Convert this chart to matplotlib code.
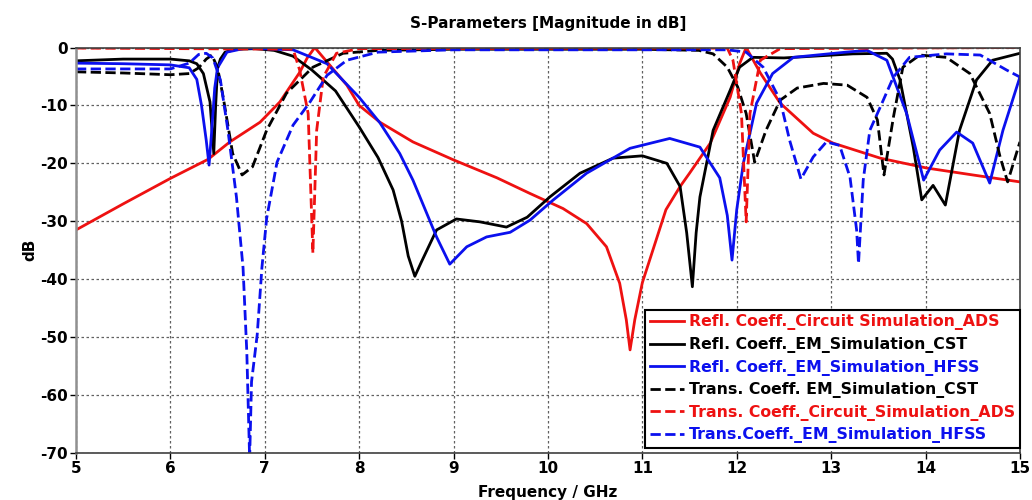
import numpy as np
import matplotlib
matplotlib.use('Agg')
import matplotlib.pyplot as plt


# ********************************************************************************************
# Data (frequency in GHz, magnitude in dB)

refl_ads_f = [5.0, 5.5, 6.0, 6.4, 6.63, 6.95, 7.16, 7.37, 7.45, 7.53, 7.66, 7.87, 8.0, 8.22, 8.57,
              9.0, 9.46, 9.81, 10.16, 10.41, 10.62, 10.76, 10.83, 10.87, 10.92, 11.0, 11.25, 11.4,
              11.5, 11.72, 11.93, 12.03, 12.1, 12.25, 12.46, 12.81, 13.02, 13.52, 14.01, 14.5, 15.0]
refl_ads_db = [-31.5, -27.0, -22.6, -19.3, -16.3, -12.9, -9.4, -4.3, -1.8, 0.0, -2.5, -6.5, -10.0,
               -12.9, -16.3, -19.4, -22.5, -25.2, -27.8, -30.4, -34.4, -40.7, -47.0, -52.2, -47.0,
               -40.6, -28.0, -24.0, -21.7, -16.5, -8.6, -2.8, 0.0, -4.4, -9.6, -14.8, -16.5, -19.1,
               -20.8, -22.0, -23.2]

refl_cst_f = [5.0, 5.5, 6.0, 6.2, 6.28, 6.35, 6.42, 6.46, 6.48, 6.5, 6.53, 6.58, 6.7, 6.9, 7.1,
              7.3, 7.5, 7.75, 8.0, 8.2, 8.36, 8.45, 8.52, 8.59, 8.66, 8.82, 9.03, 9.28, 9.56, 9.78,
              10.02, 10.34, 10.69, 11.0, 11.26, 11.4, 11.47, 11.53, 11.57, 11.61, 11.75, 11.93,
              12.03, 12.17, 12.5, 13.23, 13.59, 13.65, 13.73, 13.87, 13.96, 14.08, 14.21, 14.36,
              14.54, 14.71, 15.0]
refl_cst_db = [-2.3, -2.0, -2.0, -2.3, -2.8, -4.5, -9.4, -18.3, -10.0, -3.6, -2.0, -0.8, -0.3, -0.2,
               -0.5, -1.5, -3.9, -7.5, -13.7, -19.0, -24.6, -30.0, -36.0, -39.5, -37.0, -31.5,
               -29.6, -30.1, -31.0, -29.3, -25.8, -21.7, -19.1, -18.7, -20.0, -24.0, -32.0, -41.3,
               -32.0, -25.8, -14.3, -7.4, -3.4, -1.7, -1.8, -1.1, -1.0, -2.0, -5.6, -17.2, -26.3,
               -23.8, -27.2, -14.3, -5.6, -2.2, -1.0]

refl_hfss_f = [5.0, 5.5, 6.0, 6.2, 6.28, 6.33, 6.38, 6.41, 6.44, 6.47, 6.5, 6.6, 6.8, 7.3, 7.66,
               8.0, 8.22, 8.43, 8.57, 8.82, 8.96, 9.14, 9.35, 9.6, 9.81, 10.05, 10.41, 10.87, 11.29,
               11.61, 11.82, 11.9, 11.95, 12.0, 12.07, 12.21, 12.38, 12.6, 13.16, 13.38, 13.59,
               13.8, 13.98, 14.15, 14.33, 14.5, 14.68, 14.82, 15.0]
refl_hfss_db = [-2.7, -2.8, -3.0, -3.5, -5.5, -10.0, -16.0, -20.3, -14.0, -7.0, -3.5, -0.8, -0.1,
                -0.4, -2.8, -8.6, -13.0, -18.3, -22.9, -32.7, -37.4, -34.4, -32.7, -31.9, -29.8,
                -26.4, -21.7, -17.4, -15.7, -17.2, -22.5, -29.0, -36.7, -28.0, -20.0, -9.6, -4.5,
                -1.7, -0.8, -0.5, -2.2, -11.4, -22.9, -17.7, -14.6, -16.5, -23.4, -14.3, -5.1]

trans_cst_f = [5.0, 5.5, 6.0, 6.2, 6.3, 6.38, 6.44, 6.5, 6.56, 6.66, 6.76, 6.87, 7.02, 7.23, 7.51,
               7.83, 8.2, 9.0, 11.0, 11.6, 11.75, 11.9, 12.01, 12.1, 12.19, 12.31, 12.46, 12.64,
               12.92, 13.17, 13.38, 13.49, 13.56, 13.66, 13.76, 13.94, 14.22, 14.47, 14.68, 14.79,
               14.87, 15.0]
trans_cst_db = [-4.2, -4.4, -4.7, -4.5, -3.5, -2.0, -1.3, -3.5, -8.6, -18.3, -22.0, -20.6, -14.3,
                -7.9, -3.4, -1.0, -0.5, -0.3, -0.3, -0.5, -1.1, -3.4, -6.8, -11.4, -19.8, -14.3,
                -9.1, -7.0, -6.2, -6.5, -8.6, -12.5, -22.0, -12.0, -3.4, -1.3, -1.7, -4.5, -11.4,
                -18.9, -23.2, -16.3]

trans_ads_f = [5.0, 7.3, 7.37, 7.46, 7.51, 7.55, 7.62, 7.76, 8.0, 11.9, 11.96, 12.05, 12.1, 12.14,
               12.25, 12.46, 15.0]
trans_ads_db = [-0.1, -0.3, -3.9, -11.4, -35.5, -14.3, -5.1, -1.0, -0.2, -0.1, -2.2, -11.4, -30.1,
                -11.4, -2.2, -0.2, 0.0]

trans_hfss_f = [5.0, 5.5, 6.0, 6.2, 6.3, 6.38, 6.45, 6.53, 6.61, 6.7, 6.77, 6.81, 6.84, 6.86, 6.92,
                6.97, 7.02, 7.13, 7.3, 7.48, 7.66, 7.87, 8.2, 9.0, 11.9, 12.1, 12.28, 12.46, 12.56,
                12.68, 12.81, 12.95, 13.09, 13.2, 13.27, 13.29, 13.34, 13.41, 13.52, 13.66, 13.83,
                14.22, 14.58, 14.86, 15.0]
trans_hfss_db = [-3.7, -3.7, -3.7, -2.7, -1.2, -1.0, -1.8, -5.6, -14.3, -25.8, -38.0, -52.6, -71.0,
                 -57.7, -49.6, -38.0, -29.5, -19.8, -13.4, -9.4, -4.8, -2.2, -0.8, -0.4, -0.4, -0.8,
                 -3.4, -9.1, -16.0, -22.7, -18.9, -16.3, -16.9, -22.4, -31.5, -37.3, -22.9, -14.3,
                 -10.3, -5.1, -1.7, -1.1, -1.3, -3.9, -5.1]

labels = ['Refl. Coeff._Circuit Simulation_ADS',
          'Refl. Coeff._EM_Simulation_CST',
          'Refl. Coeff._EM_Simulation_HFSS',
          'Trans. Coeff. EM_Simulation_CST',
          'Trans. Coeff._Circuit_Simulation_ADS',
          'Trans.Coeff._EM_Simulation_HFSS']

x_ticks = np.arange(5, 16, 1)
y_ticks = np.arange(-70, 1, 10)


# ********************************************************************************************
# Graphing

plt.rcParams['axes.unicode_minus'] = False

red = '#ee1111'
blue = '#0b10ee'
black = '#000000'
lw = 2.0

fig = plt.figure(figsize=(10.32, 5.0), dpi=100)
ax = fig.add_axes([0.0736, 0.094, 0.9147, 0.811])

ax.plot(refl_ads_f, refl_ads_db, color=red, lw=lw, label=labels[0])
ax.plot(refl_cst_f, refl_cst_db, color=black, lw=lw, label=labels[1])
ax.plot(refl_hfss_f, refl_hfss_db, color=blue, lw=lw, label=labels[2])
ax.plot(trans_cst_f, trans_cst_db, color=black, lw=lw, ls='--', label=labels[3])
ax.plot(trans_ads_f, trans_ads_db, color=red, lw=lw, ls='--', label=labels[4])
ax.plot(trans_hfss_f, trans_hfss_db, color=blue, lw=lw, ls='--', label=labels[5])

ax.set_xlim(5, 15)
ax.set_ylim(-70, 0)
ax.set_xticks(x_ticks)
ax.set_yticks(y_ticks)
ax.grid(True, color='#606060', ls=(0, (2, 2)), lw=0.9)
ax.tick_params(direction='out', length=4, width=1, labelsize=11, colors='black', pad=2)
for t in ax.get_xticklabels() + ax.get_yticklabels():
    t.set_fontweight('bold')
for s in ax.spines.values():
    s.set_color('#404040')
    s.set_linewidth(1.2)
ax.spines['left'].set_color('#909090')
ax.spines['left'].set_linewidth(1.8)

ax.set_title('S-Parameters [Magnitude in dB]', fontsize=11, fontweight='bold', pad=14)
ax.set_xlabel('Frequency / GHz', fontsize=11, fontweight='bold', labelpad=6)
ax.set_ylabel('dB', fontsize=11, fontweight='bold', labelpad=2)

# legend text takes the colour of its line
leg = ax.legend(loc='lower right', bbox_to_anchor=(1.0, 0.012), borderaxespad=0.0,
                fancybox=False, framealpha=1.0, edgecolor='black',
                prop={'weight': 'bold', 'size': 11.3}, handlelength=2.2, handletextpad=0.3,
                labelspacing=0.42, borderpad=0.3)
leg.get_frame().set_linewidth(1.5)
for txt, line in zip(leg.get_texts(), leg.get_lines()):
    txt.set_color(line.get_color())

plt.savefig('out.png', dpi=100)
plt.close()
